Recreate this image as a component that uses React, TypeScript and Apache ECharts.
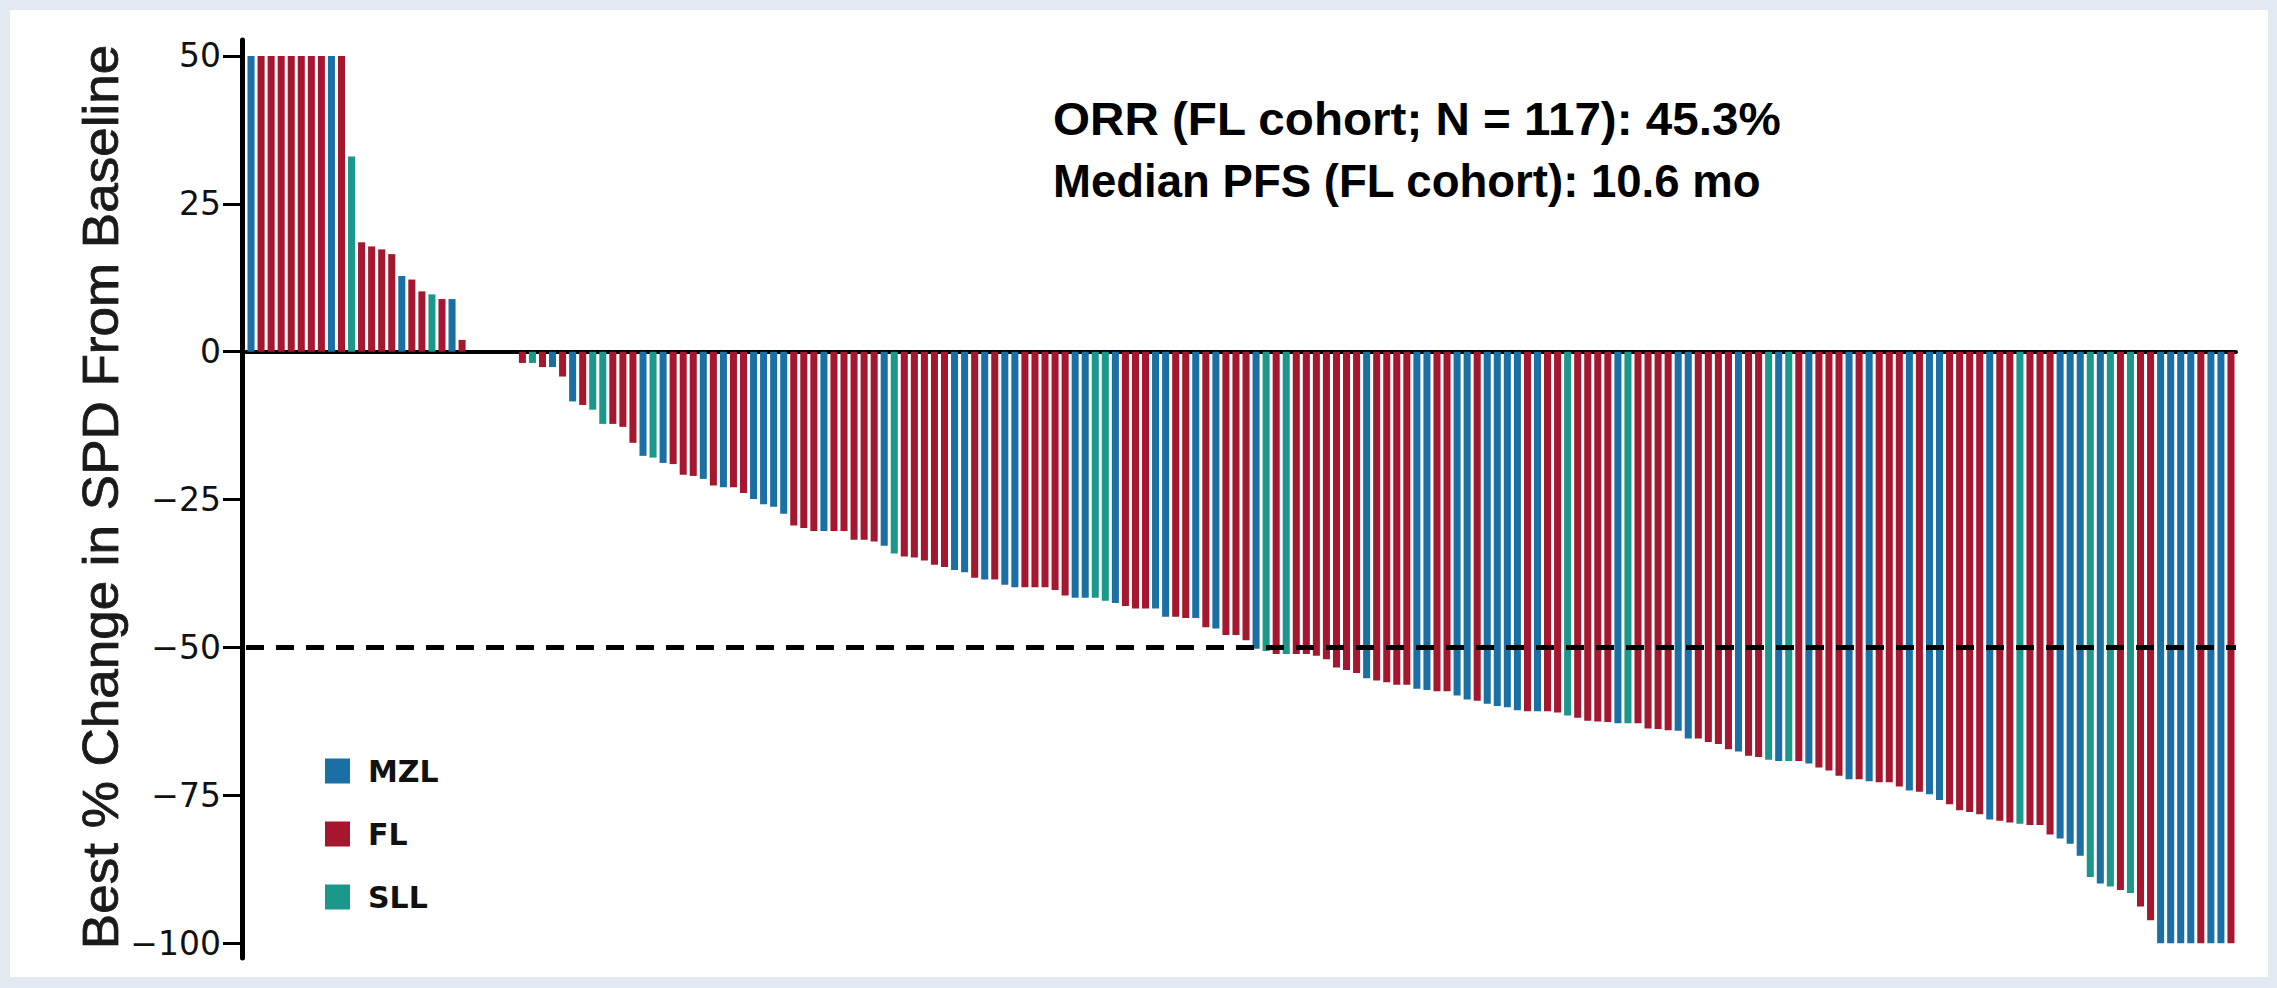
import React, { useEffect, useRef } from "react";
import * as echarts from "echarts";

// Best % change in SPD per patient (waterfall order), capped at +50
const values: number[] = [
  50, 50, 50, 50, 50, 50, 50, 50, 50, 50,
  33, 18.5, 17.8, 17.3, 16.5, 12.8, 12.2, 10.2, 9.7, 8.9,
  8.9, 2.0, 0, 0, 0, 0, 0,
  -1.9, -1.9, -2.6, -2.6, -4.2, -8.4, -9.0, -9.8, -12.2, -12.2,
  -12.7, -15.4, -17.6, -17.9, -18.8, -19.0, -20.8, -21.0, -21.5, -22.6,
  -22.9, -22.9, -23.9, -24.9, -25.8, -26.2, -27.4, -29.4, -29.8, -30.3,
  -30.3, -30.3, -30.3, -31.8, -31.8, -32.1, -32.8, -34.1, -34.6, -34.8,
  -35.3, -36.0, -36.4, -36.9, -37.3, -38.2, -38.5, -38.5, -39.4, -39.8,
  -39.8, -39.8, -39.8, -40.3, -41.2, -41.6, -41.6, -41.6, -42.1, -42.5,
  -43.0, -43.4, -43.4, -43.4, -44.8, -44.8, -45.0, -45.0, -46.6, -46.8,
  -47.9, -47.9, -48.8, -50.2, -50.6, -51.1, -51.1, -51.1, -51.1, -51.4,
  -52.0, -53.4, -53.8, -54.3, -55.2, -55.6, -55.9, -56.3, -56.3, -57.0,
  -57.2, -57.4, -57.4, -58.1, -58.8, -59.0, -59.5, -59.9, -60.1, -60.6,
  -60.8, -60.8, -60.8, -61.0, -61.5, -61.9, -62.4, -62.5, -62.6, -62.8,
  -62.8, -62.8, -63.7, -63.8, -64.0, -64.1, -65.4, -65.4, -66.0, -66.3,
  -67.2, -67.6, -68.3, -68.5, -69.0, -69.2, -69.2, -69.2, -69.6, -70.3,
  -70.8, -71.7, -72.3, -72.3, -72.6, -72.8, -72.8, -73.5, -74.2, -74.4,
  -74.8, -75.8, -76.5, -77.5, -77.8, -78.2, -79.1, -79.3, -79.6, -79.8,
  -80.0, -80.0, -81.6, -82.3, -83.2, -85.2, -88.8, -89.9, -90.4, -91.0,
  -91.5, -93.8, -96.1, -100, -100, -100, -100, -100, -100, -100,
  -100,
];

// Cohort of each bar: M = MZL, F = FL, S = SLL
const cohorts: string[] = [
  "M", "F", "F", "F", "F", "F", "F", "F", "M", "F",
  "S", "F", "F", "F", "F", "M", "F", "F", "S", "F",
  "M", "F", "F", "F", "F", "F", "F",
  "F", "S", "F", "M", "F", "M", "F", "S", "S", "F",
  "F", "F", "M", "S", "M", "F", "F", "F", "M", "F",
  "M", "F", "F", "M", "M", "M", "M", "F", "F", "F",
  "M", "F", "F", "F", "F", "F", "M", "S", "F", "F",
  "F", "F", "F", "M", "M", "F", "M", "F", "M", "M",
  "F", "F", "F", "F", "F", "M", "M", "S", "S", "M",
  "F", "F", "F", "M", "M", "F", "F", "M", "F", "M",
  "F", "F", "F", "M", "S", "F", "S", "F", "F", "F",
  "F", "F", "F", "F", "M", "F", "F", "F", "F", "M",
  "M", "F", "F", "M", "M", "F", "M", "M", "M", "M",
  "F", "M", "F", "F", "S", "F", "F", "F", "F", "M",
  "S", "F", "F", "F", "F", "M", "M", "F", "F", "F",
  "F", "M", "F", "F", "S", "M", "S", "F", "M", "F",
  "F", "F", "M", "F", "M", "F", "F", "F", "M", "F",
  "M", "M", "F", "F", "F", "F", "M", "F", "F", "S",
  "F", "F", "F", "M", "M", "M", "S", "M", "S", "F",
  "S", "F", "F", "M", "M", "M", "M", "F", "M", "M",
  "F",
];

const cohortCodes = ["M", "F", "S"];
const cohortNames = ["MZL", "FL", "SLL"];
const cohortColors = ["#1a6fa5", "#a5162f", "#1b978b"];
const yTicks = [50, 25, 0, -25, -50, -75, -100];
const responseThreshold = -50;
const yTitle = "Best % Change in SPD From Baseline";
const annotations = ["ORR (FL cohort; N = 117): 45.3%", "Median PFS (FL cohort): 10.6 mo"];

export default function App() {
  const ref = useRef<HTMLDivElement>(null);

  useEffect(() => {
    const chart = echarts.init(ref.current!, null, { renderer: "svg" });
    const categories = values.map((_, i) => `P${i + 1}`);
    const annotationScale = [1.035, 0.99];

    const series = cohortNames.map((name, k) => ({
      name,
      type: "bar",
      data: values.map((v, i) => (cohorts[i] === cohortCodes[k] ? v : "-")),
      itemStyle: { color: cohortColors[k] },
      barGap: "-100%",
      barCategoryGap: "30%",
      markLine:
        k === 0
          ? {
              silent: true,
              symbol: ["none", "none"],
              label: { show: false },
              lineStyle: { color: "#000", width: 5, type: [18, 12] },
              data: [{ yAxis: responseThreshold }],
              z: 10,
            }
          : undefined,
    }));

    chart.setOption({
      animation: false,
      backgroundColor: "#e2e9f1",
      grid: { left: 246, width: 1990, top: 40, height: 918, containLabel: false },
      legend: {
        data: cohortNames,
        orient: "vertical",
        left: 320,
        top: 751,
        icon: "rect",
        itemWidth: 25,
        itemHeight: 25,
        itemGap: 33,
        textStyle: {
          fontFamily: "DejaVu Sans",
          fontWeight: "bold",
          fontSize: 30,
          color: "#111",
          padding: [0, 0, 0, 13],
        },
      },
      xAxis: {
        type: "category",
        data: categories,
        axisLine: { onZero: true, lineStyle: { color: "#000", width: 4 } },
        axisTick: { show: false },
        axisLabel: { show: false },
        splitLine: { show: false },
      },
      yAxis: {
        type: "value",
        min: -102.5,
        max: 52.7,
        offset: 4,
        axisLine: { show: true, lineStyle: { color: "#000", width: 5 } },
        axisTick: {
          show: true,
          length: 19,
          lineStyle: { color: "#000", width: 3 },
          customValues: yTicks,
        },
        axisLabel: {
          customValues: yTicks,
          margin: 21,
          fontFamily: "DejaVu Sans",
          fontSize: 33,
          color: "#111",
          formatter: (v: number) => (v < 0 ? "\u2212" + Math.abs(v) : String(v)),
        },
        splitLine: { show: false },
      },
      graphic: [
        {
          type: "rect",
          z: -10,
          shape: { x: 10, y: 10, width: 2258, height: 967 },
          style: { fill: "#ffffff" },
        },
        {
          type: "text",
          x: 101,
          y: 497,
          rotation: Math.PI / 2,
          scaleX: 1.06,
          style: {
            text: yTitle,
            fontSize: 50,
            fontFamily: "Liberation Sans",
            fill: "#1a1a1a",
            stroke: "#1a1a1a",
            lineWidth: 0.8,
            align: "center",
            verticalAlign: "middle",
            textAlign: "center",
            textVerticalAlign: "middle",
          },
        },
        ...annotations.map((t, i) => ({
          type: "text",
          x: 1053,
          y: 119 + i * 62,
          scaleX: annotationScale[i],
          style: {
            text: t,
            fontSize: 46,
            fontWeight: "bold",
            fontFamily: "Liberation Sans",
            fill: "#000",
            align: "left",
            verticalAlign: "middle",
            textAlign: "left",
            textVerticalAlign: "middle",
          },
        })),
      ],
      series,
    });

    return () => chart.dispose();
  }, []);

  return (
    <div
      ref={ref}
      style={{ position: "fixed", left: 0, top: 0, width: 2277, height: 988 }}
    />
  );
}
